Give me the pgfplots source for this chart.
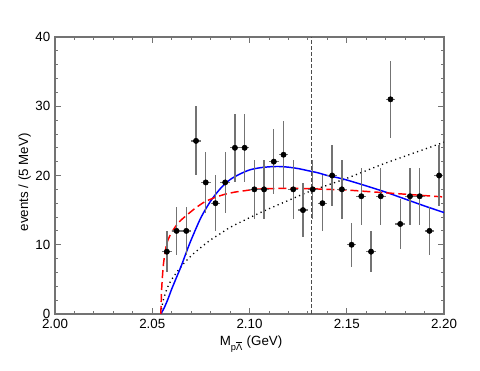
\documentclass[border=0pt]{standalone}
\usepackage{fontspec}
\setmainfont{Liberation Sans}
\usepackage{pgfplots}
\pgfplotsset{compat=1.18}

% measured data, 5 MeV bins: centre, counts, x half-width, sqrt(N)
\pgfplotstableread{
x       y   ex      ey
2.0575  9   0.0025  3.00
2.0625  12  0.0025  3.46
2.0675  12  0.0025  3.46
2.0725  25  0.0025  5.00
2.0775  19  0.0025  4.36
2.0825  16  0.0025  4.00
2.0875  19  0.0025  4.36
2.0925  24  0.0025  4.90
2.0975  24  0.0025  4.90
2.1025  18  0.0025  4.24
2.1075  18  0.0025  4.24
2.1125  22  0.0025  4.69
2.1175  23  0.0025  4.80
2.1225  18  0.0025  4.24
2.1275  15  0.0025  3.87
2.1325  18  0.0025  4.24
2.1375  16  0.0025  4.00
2.1425  20  0.0025  4.47
2.1475  18  0.0025  4.24
2.1525  10  0.0025  3.16
2.1575  17  0.0025  4.12
2.1625  9   0.0025  3.00
2.1675  17  0.0025  4.12
2.1725  31  0.0025  5.57
2.1775  13  0.0025  3.61
2.1825  17  0.0025  4.12
2.1875  17  0.0025  4.12
2.1925  12  0.0025  3.46
2.1975  20  0.0025  4.47
}\datatab

\begin{document}
\begin{tikzpicture}
\path[use as bounding box] (0pt,0pt) rectangle (360pt,278.25pt);
\begin{axis}[
  at={(41.25pt,42.75pt)}, anchor=south west,
  scale only axis,
  width=291.75pt, height=207.75pt,
  xmin=2.0, xmax=2.2, ymin=0, ymax=40,
  xtick={2.00,2.05,...,2.21}, minor x tick num=4,
  ytick={0,10,...,40}, minor y tick num=4,
  tick align=inside,
  major tick length=4.5pt, minor tick length=2.25pt,
  axis line style={black!55, line width=0.8pt},
  tick style={black!55, line width=0.6pt},
  x tick label style={/pgf/number format/.cd, fixed, fixed zerofill, precision=2},
  /pgf/number format/assume math mode=true,
  tick label style={font=\fontsize{10}{12}\selectfont},
  label style={font=\fontsize{12}{14}\selectfont},
  xlabel={M\textsubscript{p$\overline{\mbox{Λ}}$} (GeV)},
  ylabel={events / (5 MeV)},
  every axis x label/.style={at={(axis description cs:0.504,-0.1155)}, anchor=base},
  every axis y label/.style={at={(axis description cs:-0.078,0.475)}, rotate=90, anchor=center},
  clip=true,
]
% vertical reference line
\addplot[black!70, line width=0.6pt, dash pattern=on 3pt off 1.5pt] coordinates {(2.132,0) (2.132,40)};

% dotted curve
\addplot[black, line width=1pt, dash pattern=on 0.9pt off 2.6pt, smooth] coordinates {
(2.0544,0) (2.0555,1.8) (2.0575,3.6) (2.0600,5.0) (2.0650,6.9) (2.0700,8.4)
(2.0750,9.6) (2.0800,10.7) (2.0850,11.6) (2.0900,12.5) (2.1000,13.9)
(2.1100,15.2) (2.1200,16.4) (2.1300,17.6) (2.1400,18.6) (2.1500,19.6)
(2.1600,20.7) (2.1700,21.8) (2.1800,22.8) (2.1900,23.8) (2.2000,24.8)};

% blue curve
\addplot[blue, line width=1.1pt, smooth] coordinates {
(2.0544,0) (2.0560,0.8) (2.0580,2.1) (2.0600,3.6) (2.0625,5.3) (2.0650,7.0)
(2.0675,8.9) (2.0700,10.7) (2.0750,13.9) (2.0800,16.3) (2.0850,18.1)
(2.0900,19.4) (2.0950,20.2) (2.1000,20.8) (2.1050,21.1) (2.1100,21.25)
(2.1150,21.3) (2.1200,21.2) (2.1250,21.0) (2.1300,20.7) (2.1350,20.4)
(2.1400,20.0) (2.1450,19.7) (2.1500,19.35) (2.1600,18.5) (2.1700,17.6)
(2.1800,16.6) (2.1900,15.6) (2.2000,14.65)};

% red dashed curve
\addplot[red, line width=1.1pt, dash pattern=on 6pt off 3pt, smooth, tension=0.4] coordinates {
(2.0544,0) (2.0549,3.9) (2.0558,7.3) (2.0575,10.2) (2.0600,11.8) (2.0635,13.2)
(2.0670,14.1) (2.0720,15.25) (2.0770,16.2) (2.0825,16.85) (2.0875,17.3)
(2.0925,17.6) (2.0975,17.8) (2.1025,18.0) (2.1100,18.1) (2.1200,18.15)
(2.1300,18.1) (2.1400,18.0) (2.1500,17.9) (2.1600,17.7) (2.1700,17.5)
(2.1800,17.3) (2.1900,17.1) (2.2000,16.9)};

% data points
\addplot[only marks, mark=*, mark size=2pt, black,
  error bars/.cd, x dir=both, x explicit, y dir=both, y explicit,
  error mark=none, error bar style={black!55, line width=1pt}]
  table[x=x, y=y, x error=ex, y error=ey] {\datatab};
\end{axis}
\end{tikzpicture}
\end{document}
